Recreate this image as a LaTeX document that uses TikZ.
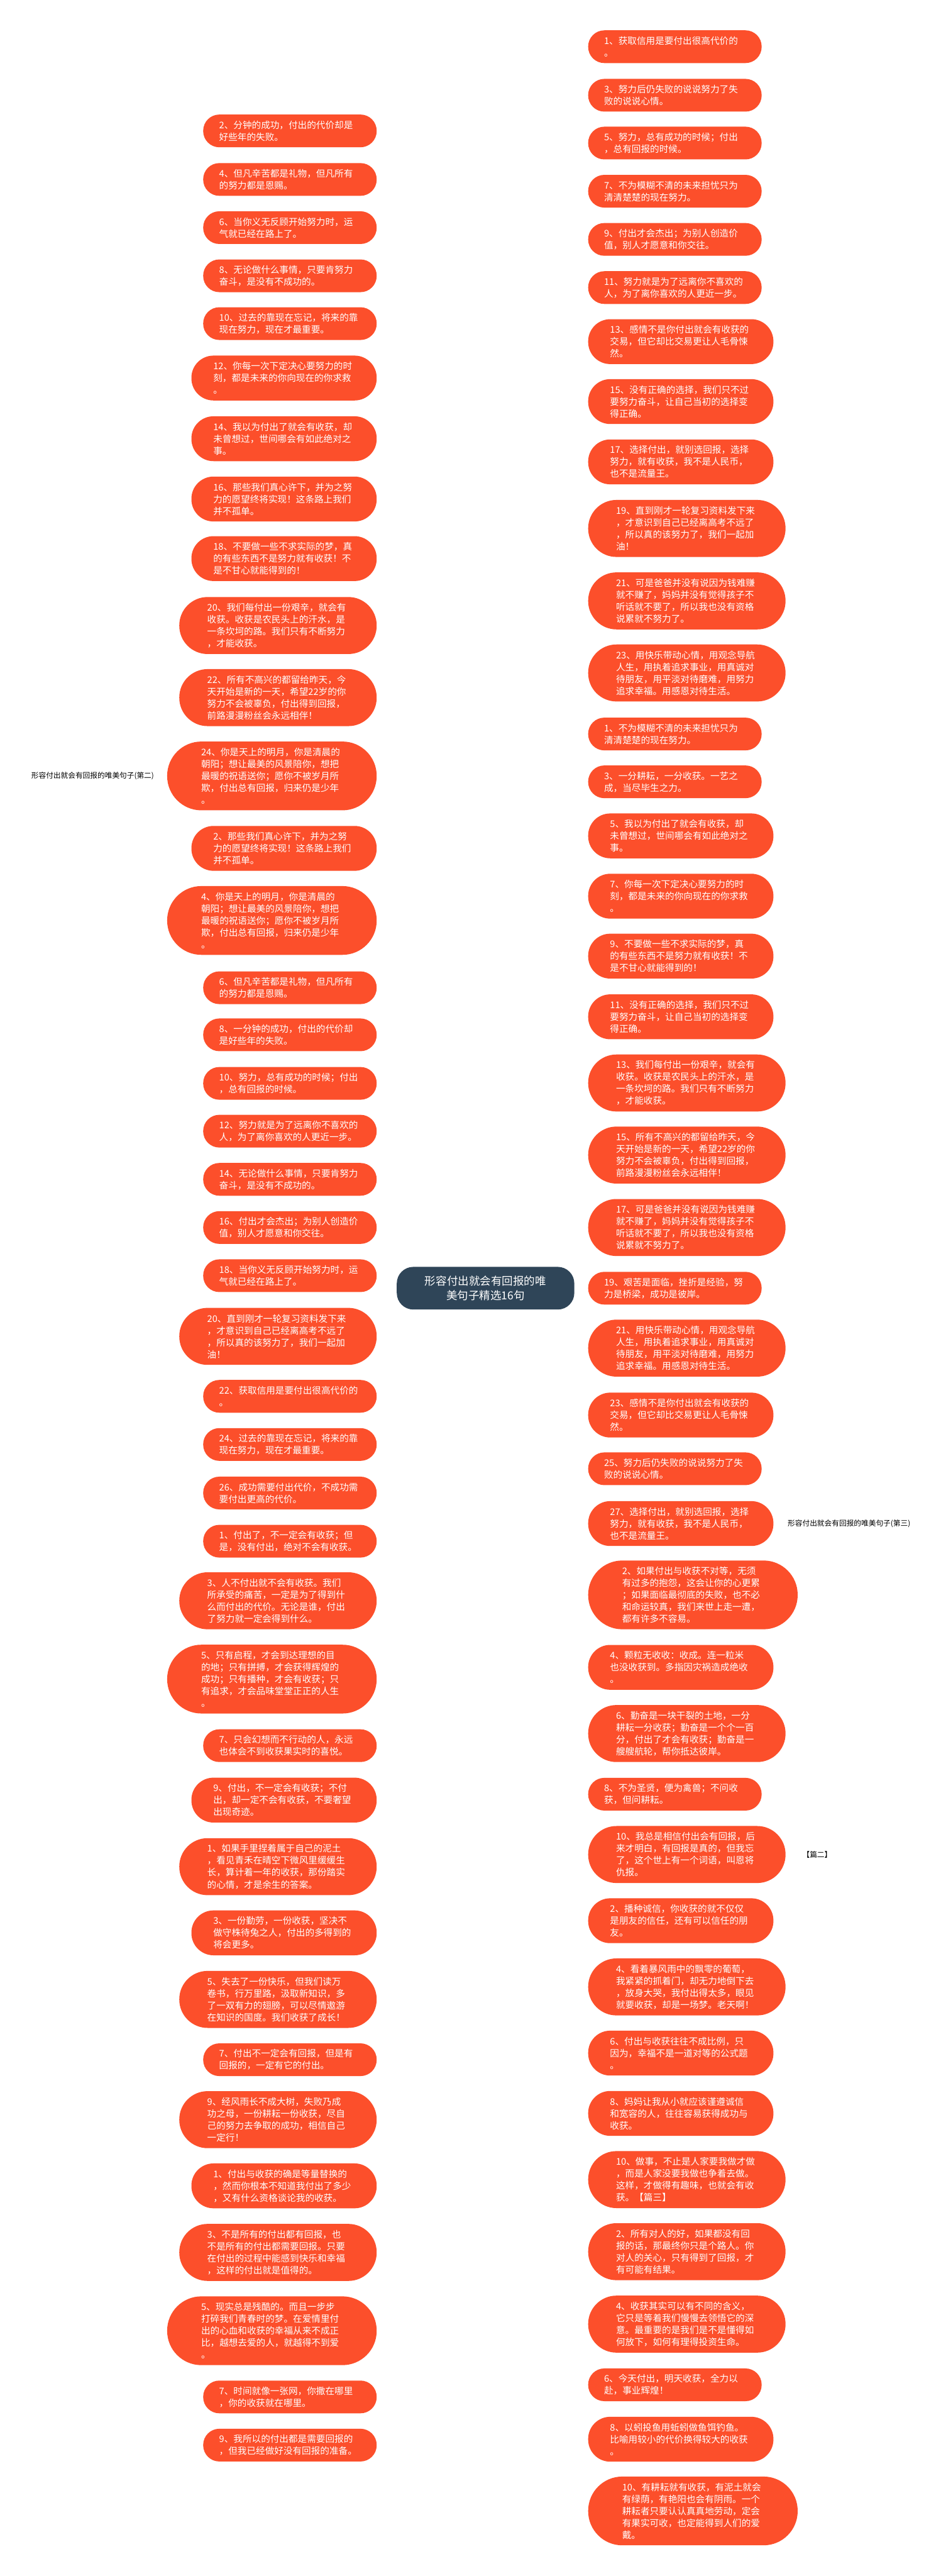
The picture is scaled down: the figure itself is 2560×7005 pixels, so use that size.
\documentclass[tikz,border=0pt]{standalone}
\usepackage{fontspec}
\setmainfont{Noto Sans CJK SC}
\usetikzlibrary{calc}
\definecolor{leafc}{HTML}{FC4F2B}
\definecolor{rootc}{HTML}{2F4558}
\definecolor{linec}{HTML}{2C3E50}
\pgfdeclarelayer{bg}
\pgfsetlayers{bg,main}
\newcommand\mmL[4]{\node[leaf,#2,lft] (L#1) at (1025,#3) {#4};}
\newcommand\mmR[4]{\node[leaf,#2,rgt] (R#1) at (1600,#3) {#4};}
\begin{document}
\begin{tikzpicture}[x=1pt,y=-1pt,
 leaf/.style={rectangle, fill=leafc, text=white, inner sep=0pt, text width=385pt, align=left, font=\fontsize{25pt}{32.5pt}\selectfont},
 n2/.style={minimum width=472pt, minimum height=89pt, rounded corners=44pt},
 n3/.style={minimum width=504pt, minimum height=122pt, rounded corners=60pt},
 n4/.style={minimum width=537pt, minimum height=155pt, rounded corners=77pt},
 n5/.style={minimum width=570pt, minimum height=187pt, rounded corners=93pt},
 lft/.style={anchor=east}, rgt/.style={anchor=west},
 conn/.style={draw=linec, line width=2.5pt},
 lab/.style={font=\fontsize{20pt}{24pt}\selectfont, text=black, inner sep=3pt},
 rootbox/.style={rectangle, rounded corners=45pt, fill=rootc, text=white, minimum width=483pt, minimum height=116pt, align=center, font=\fontsize{30pt}{38pt}\selectfont}]
\useasboundingbox (0,0) rectangle (2560,7005);
\fill[white] (0,0) rectangle (2560,7005);

\node[rootbox] (root) at (1321,3503) {形容付出就会有回报的唯\\美句子精选16句};

% left column
\mmL{1}{n2}{356}{2、分钟的成功，付出的代价却是\\好些年的失败。}
\mmL{2}{n2}{488}{4、但凡辛苦都是礼物，但凡所有\\的努力都是恩赐。}
\mmL{3}{n2}{619}{6、当你义无反顾开始努力时，运\\气就已经在路上了。}
\mmL{4}{n2}{750}{8、无论做什么事情，只要肯努力\\奋斗，是没有不成功的。}
\mmL{5}{n2}{880}{10、过去的靠现在忘记，将来的靠\\现在努力，现在才最重要。}
\mmL{6}{n3}{1028}{12、你每一次下定决心要努力的时\\刻，都是未来的你向现在的你求救\\。}
\mmL{7}{n3}{1193}{14、我以为付出了就会有收获，却\\未曾想过，世间哪会有如此绝对之\\事。}
\mmL{8}{n3}{1357}{16、那些我们真心许下，并为之努\\力的愿望终将实现！这条路上我们\\并不孤单。}
\mmL{9}{n3}{1519}{18、不要做一些不求实际的梦，真\\的有些东西不是努力就有收获！不\\是不甘心就能得到的！}
\mmL{10}{n4}{1701}{20、我们每付出一份艰辛，就会有\\收获。收获是农民头上的汗水，是\\一条坎坷的路。我们只有不断努力\\，才能收获。}
\mmL{11}{n4}{1897}{22、所有不高兴的都留给昨天，今\\天开始是新的一天，希望22岁的你\\努力不会被辜负，付出得到回报，\\前路漫漫粉丝会永远相伴！}
\mmL{12}{n5}{2110}{24、你是天上的明月，你是清晨的\\朝阳；想让最美的风景陪你，想把\\最暖的祝语送你；愿你不被岁月所\\欺，付出总有回报，归来仍是少年\\。}
\mmL{13}{n3}{2307}{2、那些我们真心许下，并为之努\\力的愿望终将实现！这条路上我们\\并不孤单。}
\mmL{14}{n5}{2503}{4、你是天上的明月，你是清晨的\\朝阳；想让最美的风景陪你，想把\\最暖的祝语送你；愿你不被岁月所\\欺，付出总有回报，归来仍是少年\\。}
\mmL{15}{n2}{2686}{6、但凡辛苦都是礼物，但凡所有\\的努力都是恩赐。}
\mmL{16}{n2}{2814}{8、一分钟的成功，付出的代价却\\是好些年的失败。}
\mmL{17}{n2}{2946}{10、努力，总有成功的时候；付出\\，总有回报的时候。}
\mmL{18}{n2}{3076}{12、努力就是为了远离你不喜欢的\\人，为了离你喜欢的人更近一步。}
\mmL{19}{n2}{3207}{14、无论做什么事情，只要肯努力\\奋斗，是没有不成功的。}
\mmL{20}{n2}{3338}{16、付出才会杰出；为别人创造价\\值，别人才愿意和你交往。}
\mmL{21}{n2}{3469}{18、当你义无反顾开始努力时，运\\气就已经在路上了。}
\mmL{22}{n4}{3634}{20、直到刚才一轮复习资料发下来\\，才意识到自己已经离高考不远了\\，所以真的该努力了，我们一起加\\油！}
\mmL{23}{n2}{3797}{22、获取信用是要付出很高代价的\\。}
\mmL{24}{n2}{3928}{24、过去的靠现在忘记，将来的靠\\现在努力，现在才最重要。}
\mmL{25}{n2}{4060}{26、成功需要付出代价，不成功需\\要付出更高的代价。}
\mmL{26}{n2}{4191}{1、付出了，不一定会有收获；但\\是，没有付出，绝对不会有收获。}
\mmL{27}{n4}{4353}{3、人不付出就不会有收获。我们\\所承受的痛苦，一定是为了得到什\\么而付出的代价。无论是谁，付出\\了努力就一定会得到什么。}
\mmL{28}{n5}{4566}{5、只有启程，才会到达理想的目\\的地；只有拼搏，才会获得辉煌的\\成功；只有播种，才会有收获；只\\有追求，才会品味堂堂正正的人生\\。}
\mmL{29}{n2}{4747}{7、只会幻想而不行动的人，永远\\也体会不到收获果实时的喜悦。}
\mmL{30}{n3}{4895}{9、付出，不一定会有收获；不付\\出，却一定不会有收获，不要奢望\\出现奇迹。}
\mmL{31}{n4}{5076}{1、如果手里捏着属于自己的泥土\\，看见青禾在晴空下微风里缓缓生\\长，算计着一年的收获，那份踏实\\的心情，才是余生的答案。}
\mmL{32}{n3}{5256}{3、一份勤劳，一份收获，坚决不\\做守株待兔之人，付出的多得到的\\将会更多。}
\mmL{33}{n4}{5437}{5、失去了一份快乐，但我们读万\\卷书，行万里路，汲取新知识，多\\了一双有力的翅膀，可以尽情遨游\\在知识的国度。我们收获了成长！}
\mmL{34}{n2}{5601}{7、付出不一定会有回报，但是有\\回报的，一定有它的付出。}
\mmL{35}{n4}{5764}{9、经风雨长不成大树，失败乃成\\功之母，一份耕耘一份收获，尽自\\己的努力去争取的成功，相信自己\\一定行！}
\mmL{36}{n3}{5944}{1、付出与收获的确是等量替换的\\，然而你根本不知道我付出了多少\\，又有什么资格谈论我的收获。}
\mmL{37}{n4}{6125}{3、不是所有的付出都有回报，也\\不是所有的付出都需要回报。只要\\在付出的过程中能感到快乐和幸福\\，这样的付出就是值得的。}
\mmL{38}{n5}{6338}{5、现实总是残酷的。而且一步步\\打碎我们青春时的梦。在爱情里付\\出的心血和收获的幸福从来不成正\\比，越想去爱的人，就越得不到爱\\。}
\mmL{39}{n2}{6518}{7、时间就像一张网，你撒在哪里\\，你的收获就在哪里。}
\mmL{40}{n2}{6649}{9、我所以的付出都是需要回报的\\，但我已经做好没有回报的准备。}

% right column
\mmR{1}{n2}{127}{1、获取信用是要付出很高代价的\\。}
\mmR{2}{n2}{259}{3、努力后仍失败的说说努力了失\\败的说说心情。}
\mmR{3}{n2}{389}{5、努力，总有成功的时候；付出\\，总有回报的时候。}
\mmR{4}{n2}{520}{7、不为模糊不清的未来担忧只为\\清清楚楚的现在努力。}
\mmR{5}{n2}{651}{9、付出才会杰出；为别人创造价\\值，别人才愿意和你交往。}
\mmR{6}{n2}{782}{11、努力就是为了远离你不喜欢的\\人，为了离你喜欢的人更近一步。}
\mmR{7}{n3}{929}{13、感情不是你付出就会有收获的\\交易，但它却比交易更让人毛骨悚\\然。}
\mmR{8}{n3}{1092}{15、没有正确的选择，我们只不过\\要努力奋斗，让自己当初的选择变\\得正确。}
\mmR{9}{n3}{1256}{17、选择付出，就别选回报，选择\\努力，就有收获，我不是人民币，\\也不是流量王。}
\mmR{10}{n4}{1437}{19、直到刚才一轮复习资料发下来\\，才意识到自己已经离高考不远了\\，所以真的该努力了，我们一起加\\油！}
\mmR{11}{n4}{1634}{21、可是爸爸并没有说因为钱难赚\\就不赚了，妈妈并没有觉得孩子不\\听话就不要了，所以我也没有资格\\说累就不努力了。}
\mmR{12}{n4}{1830}{23、用快乐带动心情，用观念导航\\人生，用执着追求事业，用真诚对\\待朋友，用平淡对待磨难，用努力\\追求幸福。用感恩对待生活。}
\mmR{13}{n2}{1996}{1、不为模糊不清的未来担忧只为\\清清楚楚的现在努力。}
\mmR{14}{n2}{2126}{3、一分耕耘，一分收获。一艺之\\成，当尽毕生之力。}
\mmR{15}{n3}{2273}{5、我以为付出了就会有收获，却\\未曾想过，世间哪会有如此绝对之\\事。}
\mmR{16}{n3}{2437}{7、你每一次下定决心要努力的时\\刻，都是未来的你向现在的你求救\\。}
\mmR{17}{n3}{2600}{9、不要做一些不求实际的梦，真\\的有些东西不是努力就有收获！不\\是不甘心就能得到的！}
\mmR{18}{n3}{2765}{11、没有正确的选择，我们只不过\\要努力奋斗，让自己当初的选择变\\得正确。}
\mmR{19}{n4}{2945}{13、我们每付出一份艰辛，就会有\\收获。收获是农民头上的汗水，是\\一条坎坷的路。我们只有不断努力\\，才能收获。}
\mmR{20}{n4}{3141}{15、所有不高兴的都留给昨天，今\\天开始是新的一天，希望22岁的你\\努力不会被辜负，付出得到回报，\\前路漫漫粉丝会永远相伴！}
\mmR{21}{n4}{3338}{17、可是爸爸并没有说因为钱难赚\\就不赚了，妈妈并没有觉得孩子不\\听话就不要了，所以我也没有资格\\说累就不努力了。}
\mmR{22}{n2}{3503}{19、艰苦是面临，挫折是经验，努\\力是桥梁，成功是彼岸。}
\mmR{23}{n4}{3666}{21、用快乐带动心情，用观念导航\\人生，用执着追求事业，用真诚对\\待朋友，用平淡对待磨难，用努力\\追求幸福。用感恩对待生活。}
\mmR{24}{n3}{3848}{23、感情不是你付出就会有收获的\\交易，但它却比交易更让人毛骨悚\\然。}
\mmR{25}{n2}{3994}{25、努力后仍失败的说说努力了失\\败的说说心情。}
\mmR{26}{n3}{4143}{27、选择付出，就别选回报，选择\\努力，就有收获，我不是人民币，\\也不是流量王。}
\mmR{27}{n5}{4337}{2、如果付出与收获不对等，无须\\有过多的抱怨，这会让你的心更累\\；如果面临最彻底的失败，也不必\\和命运较真，我们来世上走一遭，\\都有许多不容易。}
\mmR{28}{n3}{4534}{4、颗粒无收收：收成。连一粒米\\也没收获到。多指因灾祸造成绝收\\。}
\mmR{29}{n4}{4714}{6、勤奋是一块干裂的土地，一分\\耕耘一分收获；勤奋是一个个一百\\分，付出了才会有收获；勤奋是一\\艘艘航轮，帮你抵达彼岸。}
\mmR{30}{n2}{4879}{8、不为圣贤，便为禽兽；不问收\\获，但问耕耘。}
\mmR{31}{n4}{5043}{10、我总是相信付出会有回报，后\\来才明白，有回报是真的，但我忘\\了，这个世上有一个词语，叫恩将\\仇报。}
\mmR{32}{n3}{5223}{2、播种诚信，你收获的就不仅仅\\是朋友的信任，还有可以信任的朋\\友。}
\mmR{33}{n4}{5403}{4、看着暴风雨中的飘零的葡萄，\\我紧紧的抓着门，却无力地倒下去\\，放身大哭，我付出得太多，眼见\\就要收获，却是一场梦。老天啊！}
\mmR{34}{n3}{5583}{6、付出与收获往往不成比例，只\\因为，幸福不是一道对等的公式题\\。}
\mmR{35}{n3}{5747}{8、妈妈让我从小就应该谨遵诚信\\和宽容的人，往往容易获得成功与\\收获。}
\mmR{36}{n4}{5927}{10、做事，不止是人家要我做才做\\，而是人家没要我做也争着去做。\\这样，才做得有趣味，也就会有收\\获。【篇三】}
\mmR{37}{n4}{6123}{2、所有对人的好，如果都没有回\\报的话，那最终你只是个路人。你\\对人的关心，只有得到了回报，才\\有可能有结果。}
\mmR{38}{n4}{6320}{4、收获其实可以有不同的含义，\\它只是等着我们慢慢去领悟它的深\\意。最重要的是我们是不是懂得如\\何放下，如何有理得投资生命。}
\mmR{39}{n2}{6485}{6、今天付出，明天收获，全力以\\赴，事业辉煌！}
\mmR{40}{n3}{6633}{8、以蚓投鱼用蚯蚓做鱼饵钓鱼。\\比喻用较小的代价换得较大的收获\\。}
\mmR{41}{n5}{6828}{10、有耕耘就有收获，有泥土就会\\有绿荫，有艳阳也会有阴雨。一个\\耕耘者只要认认真真地劳动，定会\\有果实可收，也定能得到人们的爱\\戴。}

% side labels
\node[lab, anchor=east] (lab2) at (422,2110) {形容付出就会有回报的唯美句子(第二)};
\node[lab, anchor=west] (lab3) at (2140,4143) {形容付出就会有回报的唯美句子(第三)};
\node[lab, anchor=west] (lab4) at (2180,5043) {【篇二】};

\begin{pgfonlayer}{bg}
\foreach \i in {1,...,40} {
  \coordinate (q) at (root.center |- L\i.east);
  \draw[conn] (root.center) .. controls ($(root.center)!0.6667!(q)$) and ($(L\i.east)!0.6667!(q)$) .. (L\i.east);
}
\foreach \i in {1,...,41} {
  \coordinate (q) at (root.center |- R\i.west);
  \draw[conn] (root.center) .. controls ($(root.center)!0.6667!(q)$) and ($(R\i.west)!0.6667!(q)$) .. (R\i.west);
}
\draw[conn, line width=2pt] (L12.west) -- (lab2.east);
\draw[conn, line width=2pt] (R26.east) -- (lab3.west);
\draw[conn, line width=2pt] (R31.east) -- (lab4.west);
\end{pgfonlayer}
\end{tikzpicture}
\end{document}
